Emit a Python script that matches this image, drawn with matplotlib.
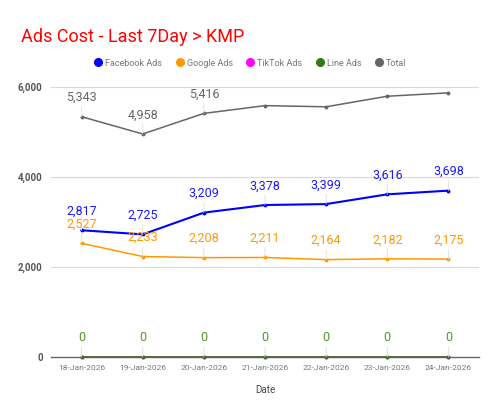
import numpy as np
import matplotlib.pyplot as plt

plt.rcParams['font.family'] = ['Roboto', 'DejaVu Sans']

dates = ['18-Jan-2026', '19-Jan-2026', '20-Jan-2026', '21-Jan-2026',
         '22-Jan-2026', '23-Jan-2026', '24-Jan-2026']
facebook = [2817, 2725, 3209, 3378, 3399, 3616, 3698]
google = [2527, 2233, 2208, 2211, 2164, 2182, 2175]
tiktok = [0, 0, 0, 0, 0, 0, 0]
line_ads = [0, 0, 0, 0, 0, 0, 0]
total = [5343, 4958, 5416, 5589, 5563, 5798, 5873]
total_labeled = 3  # only the first few total labels are visible

fig = plt.figure(figsize=(5, 4.15), dpi=100)
ax = fig.add_axes([0.102, 0.14, 0.856, 0.65])
x = np.arange(len(dates))


def labels(vals, color, n=None):
    n = len(vals) if n is None else n
    for i, v in enumerate(vals[:n]):
        ax.annotate(f'{v:,}', (i, v), xytext=(0, 9), textcoords='offset points',
                    ha='center', va='bottom', fontsize=9, color=color,
                    arrowprops=dict(arrowstyle='-', color='#dddddd', lw=0.6,
                                    shrinkA=0, shrinkB=0))


series = [
    ('Facebook Ads', facebook, '#0000ff', 1.5, '#1a1aff'),
    ('Google Ads', google, '#ff9900', 1.1, '#ff9900'),
    ('TikTok Ads', tiktok, '#ff00ff', 1.1, None),
    ('Line Ads', line_ads, '#38761d', 1.1, '#4e9a2a'),
    ('Total', total, '#666666', 1.1, '#666666'),
]
for name, vals, col, lw, lcol in series:
    ax.plot(x, vals, color=col, lw=lw, marker='o', ms=1.8, label=name,
            zorder=3, clip_on=False)

labels(facebook, '#1a1aff')
labels(google, '#ff9900')
labels(line_ads, '#4e9a2a')
labels(total, '#666666', total_labeled)

ax.set_xlim(-0.5, len(dates) - 0.5)
ax.set_ylim(0, 6000)
ax.set_yticks([0, 2000, 4000, 6000])
ax.set_yticklabels(['0', '2,000', '4,000', '6,000'], fontsize=7, color='#555555',
                   fontweight='bold')
ax.set_xticks(x)
ax.set_xticklabels(dates, fontsize=6, color='#777777')
ax.tick_params(length=0, pad=6)
ax.grid(axis='y', color='#d9d9d9', lw=0.8)
ax.set_axisbelow(True)
for s in ['top', 'right', 'left']:
    ax.spines[s].set_visible(False)
ax.spines['bottom'].set_color('#666666')
ax.spines['bottom'].set_linewidth(1.0)
ax.set_xlabel('Date', fontsize=7, color='#444444', labelpad=10)

fig.text(0.042, 0.911, 'Ads Cost - Last 7Day > KMP', fontsize=13, color='#ff0000',
         ha='left', va='center')

handles = [plt.Line2D([], [], ls='none', marker='o', ms=5.5, color=c)
           for _, _, c, _, _ in series]
fig.legend(handles, [s[0] for s in series], loc='center', bbox_to_anchor=(0.5, 0.848),
           ncol=5, frameon=False, fontsize=6.5, labelcolor='#777777',
           handletextpad=0.3, columnspacing=1.4, handlelength=1.0)

fig.savefig('out.png', dpi=100)
